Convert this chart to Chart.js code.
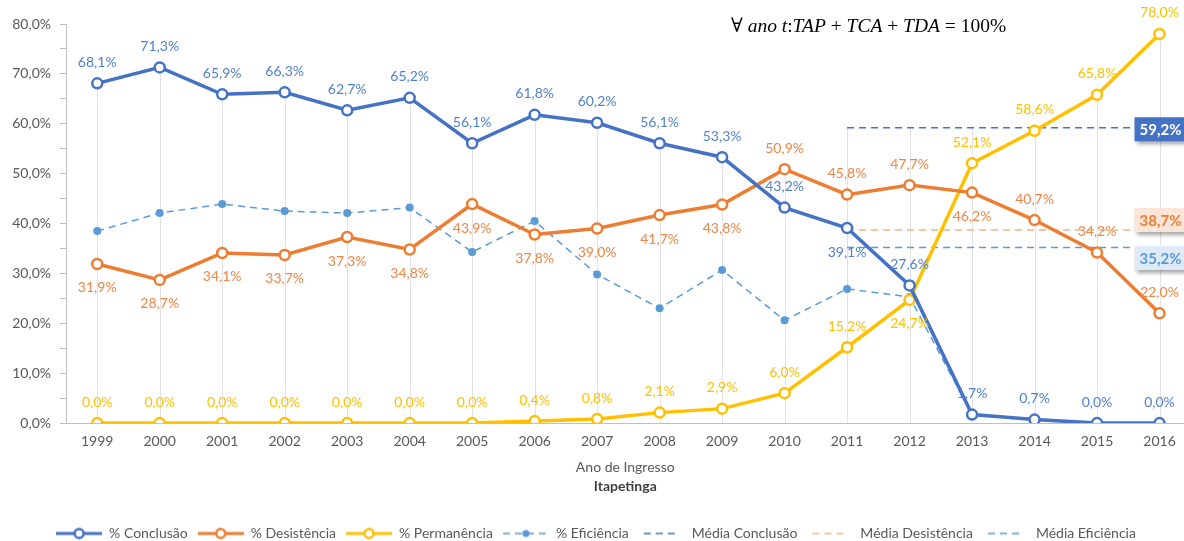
<!DOCTYPE html>
<html>
<head>
<meta charset="utf-8">
<script src="https://cdn.jsdelivr.net/npm/chart.js@4/dist/chart.umd.min.js"></script>
<style>
  html, body { margin: 0; padding: 0; background: #fff; overflow: hidden; }
</style>
</head>
<body>
<canvas id="grafico" width="1192" height="541"></canvas>
<script>
const anos = [1999, 2000, 2001, 2002, 2003, 2004, 2005, 2006, 2007, 2008, 2009, 2010, 2011, 2012, 2013, 2014, 2015, 2016];
const conclusao = [68.1, 71.3, 65.9, 66.3, 62.7, 65.2, 56.1, 61.8, 60.2, 56.1, 53.3, 43.2, 39.1, 27.6, 1.7, 0.7, 0.0, 0.0];
const desistencia = [31.9, 28.7, 34.1, 33.7, 37.3, 34.8, 43.9, 37.8, 39.0, 41.7, 43.8, 50.9, 45.8, 47.7, 46.2, 40.7, 34.2, 22.0];
const permanencia = [0.0, 0.0, 0.0, 0.0, 0.0, 0.0, 0.0, 0.4, 0.8, 2.1, 2.9, 6.0, 15.2, 24.7, 52.1, 58.6, 65.8, 78.0];
const eficiencia = [38.5, 42.1, 43.9, 42.5, 42.1, 43.2, 34.3, 40.5, 29.8, 23.0, 30.7, 20.6, 26.9, 25.3, 1.7, 0.7, 0.0, 0.0];

const inicioMedia = 2011;
const mediaConclusao = 59.2;
const mediaDesistencia = 38.7;
const mediaEficiencia = 35.2;

// posição dos rótulos: a = acima, b = abaixo
const posConclusao = ['a','a','a','a','a','a','a','a','a','a','a','a','b','a','a','a','a','a'];
const posDesistencia = ['b','b','b','b','b','b','b','b','b','b','b','a','a','a','b','a','a','a'];
const posPermanencia = ['a','a','a','a','a','a','a','a','a','a','a','a','a','b','a','a','a','a'];

const azul = '#4472C4', laranja = '#ED7D31', amarelo = '#FFC000', azulClaro = '#5B9BD5';

function pct(v) {
  return v.toFixed(1).replace('.', ',') + '%';
}

function pontos(valores) {
  return anos.map((a, i) => ({ x: a, y: valores[i] }));
}

function pontosMedia(v) {
  return anos.filter(a => a >= inicioMedia).map(a => ({ x: a, y: v }));
}

function serie(label, valores, cor, rotulos, corRotulo) {
  return {
    label: label,
    data: pontos(valores),
    borderColor: cor,
    borderWidth: 3.5,
    pointRadius: 5,
    pointBorderWidth: 2.5,
    pointBorderColor: cor,
    pointBackgroundColor: '#fff',
    rotulos: rotulos,
    corRotulo: corRotulo
  };
}

function media(label, v, cor, caixa) {
  return {
    label: label,
    data: pontosMedia(v),
    borderColor: cor,
    borderWidth: 1.5,
    borderDash: [7, 5],
    pointRadius: 0,
    caixa: caixa
  };
}

// ícone da legenda: linha com marcador
function icone(ds) {
  const c = document.createElement('canvas');
  c.width = 46; c.height = 14;
  const g = c.getContext('2d');
  const w = ds.pointRadius === 0 ? 36 : 46;
  const x0 = (46 - w) / 2;
  g.strokeStyle = ds.borderColor;
  g.lineWidth = Math.min(ds.borderWidth, 3);
  g.setLineDash(ds.borderDash || []);
  g.beginPath(); g.moveTo(x0, 7); g.lineTo(x0 + w, 7); g.stroke();
  if (ds.pointRadius > 0) {
    g.setLineDash([]);
    g.beginPath();
    g.arc(23, 7, ds.pointRadius - 0.5, 0, Math.PI * 2);
    g.fillStyle = ds.pointBackgroundColor;
    g.fill();
    if (ds.pointBorderWidth) {
      g.lineWidth = ds.pointBorderWidth;
      g.strokeStyle = ds.pointBorderColor;
      g.stroke();
    }
  }
  return c;
}

const linhasQueda = {
  id: 'linhasQueda',
  beforeDatasetsDraw(chart) {
    const { ctx, chartArea } = chart;
    const maximo = {};
    chart.data.datasets.forEach(ds => ds.data.forEach(p => {
      maximo[p.x] = Math.max(maximo[p.x] === undefined ? -Infinity : maximo[p.x], p.y);
    }));
    ctx.save();
    ctx.strokeStyle = '#E2E2E2';
    ctx.lineWidth = 1;
    Object.keys(maximo).forEach(a => {
      const px = Math.round(chart.scales.x.getPixelForValue(+a)) + 0.5;
      ctx.beginPath();
      ctx.moveTo(px, chart.scales.y.getPixelForValue(maximo[a]));
      ctx.lineTo(px, chartArea.bottom);
      ctx.stroke();
    });
    ctx.restore();
  }
};

const rotulos = {
  id: 'rotulos',
  afterDatasetsDraw(chart) {
    const ctx = chart.ctx;
    ctx.save();
    ctx.textAlign = 'center';
    ctx.textBaseline = 'middle';
    chart.data.datasets.forEach((ds, i) => {
      const meta = chart.getDatasetMeta(i);
      if (ds.rotulos) {
        ctx.font = '14px Lato';
        ctx.fillStyle = ds.corRotulo;
        meta.data.forEach((pt, j) => {
          const dy = ds.rotulos[j] === 'a' ? -21 : 24;
          ctx.fillText(pct(ds.data[j].y), pt.x, pt.y + dy);
        });
      }
      if (ds.caixa) {
        const pt = meta.data[meta.data.length - 1];
        const cx = pt.x, cy = pt.y + ds.caixa.dy;
        ctx.save();
        ctx.shadowColor = 'rgba(0,0,0,0.35)';
        ctx.shadowBlur = 4;
        ctx.shadowOffsetX = 2;
        ctx.shadowOffsetY = 3;
        ctx.fillStyle = ds.caixa.fundo;
        ctx.fillRect(cx - 25, cy - 12, 52, 24);
        ctx.restore();
        ctx.font = 'bold 15px Lato';
        ctx.fillStyle = ds.caixa.cor;
        ctx.fillText(pct(ds.data[ds.data.length - 1].y), cx + 1, cy + 1);
      }
    });
    ctx.restore();
  }
};

const formula = {
  id: 'formula',
  afterDraw(chart) {
    const ctx = chart.ctx;
    const partes = [['∀ ', 0], ['ano t', 1], [':', 0], ['TAP', 1], [' + ', 0], ['TCA', 1], [' + ', 0], ['TDA', 1], [' = 100%', 0]];
    let x = 731;
    ctx.save();
    ctx.fillStyle = '#000';
    ctx.textBaseline = 'alphabetic';
    partes.forEach(([t, it]) => {
      ctx.font = (it ? 'italic ' : '') + '19.5px "Liberation Serif", "DejaVu Serif", serif';
      ctx.fillText(t, x, 32);
      x += ctx.measureText(t).width;
    });
    ctx.restore();
  }
};

Chart.defaults.font.family = 'Lato';
Chart.defaults.font.size = 14;
Chart.defaults.color = '#595959';

const ctx = document.getElementById('grafico');

new Chart(ctx, {
  type: 'line',
  data: {
    datasets: [
      serie('% Conclusão', conclusao, azul, posConclusao, '#5181CE'),
      serie('% Desistência', desistencia, laranja, posDesistencia, '#EF8547'),
      serie('% Permanência', permanencia, amarelo, posPermanencia, '#FFC000'),
      {
        label: '% Eficiência',
        data: pontos(eficiencia),
        borderColor: azulClaro,
        borderWidth: 1.5,
        borderDash: [7, 5],
        pointRadius: 4,
        pointBorderWidth: 0,
        pointBackgroundColor: azulClaro
      },
      media('Média Conclusão', mediaConclusao, azul, { fundo: azul, cor: '#fff', dy: 1.5 }),
      media('Média Desistência', mediaDesistencia, '#F4B183', { fundo: '#FBE5D6', cor: laranja, dy: -10 }),
      media('Média Eficiência', mediaEficiencia, azulClaro, { fundo: '#DEEBF7', cor: azulClaro, dy: 10.5 })
    ]
  },
  options: {
    responsive: false,
    animation: false,
    events: [],
    layout: { padding: { top: 24, right: 0, left: 0, bottom: -9.5 } },
    scales: {
      x: {
        type: 'linear',
        min: 1998.5,
        max: 2016.4,
        grid: { display: false, drawTicks: false },
        border: { color: '#BFBFBF' },
        ticks: {
          stepSize: 1,
          includeBounds: false,
          autoSkip: false,
          maxRotation: 0,
          padding: 10,
          callback: v => Number.isInteger(v) ? String(v) : ''
        },
        title: {
          display: true,
          text: 'Ano de Ingresso',
          color: '#595959',
          font: { size: 14 },
          padding: { top: -1, bottom: 0 }
        }
      },
      y: {
        min: 0,
        max: 80,
        ticks: {
          stepSize: 5,
          padding: 9,
          callback: v => v % 10 === 0 ? pct(v) : ''
        },
        grid: { drawOnChartArea: false, tickLength: 6, color: '#BFBFBF' },
        border: { color: '#BFBFBF' },
        afterFit(s) { s.width = 66; }
      }
    },
    plugins: {
      title: {
        display: true,
        text: 'Itapetinga',
        position: 'bottom',
        fullSize: false,
        weight: 500,
        color: '#404040',
        font: { size: 14, weight: 'bold' },
        padding: { top: 2, bottom: 22 }
      },
      legend: {
        position: 'bottom',
        weight: 1000,
        labels: {
          usePointStyle: true,
          pointStyleWidth: 46,
          padding: 10,
          font: { size: 14 },
          color: '#595959',
          generateLabels(chart) {
            const itens = Chart.defaults.plugins.legend.labels.generateLabels(chart);
            itens.forEach(it => { it.pointStyle = icone(chart.data.datasets[it.datasetIndex]); });
            return itens;
          }
        }
      },
      tooltip: { enabled: false }
    }
  },
  plugins: [linhasQueda, rotulos, formula]
});
</script>
</body>
</html>
